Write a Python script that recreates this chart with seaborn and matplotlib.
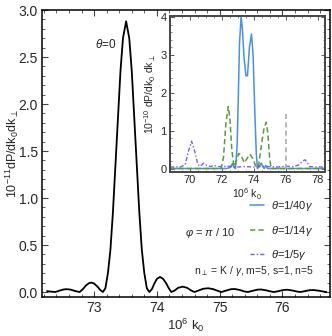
import numpy as np
import pandas as pd
import seaborn as sns
import matplotlib.pyplot as plt
from matplotlib.ticker import MultipleLocator

# main curve, theta = 0
k_main = [72.25, 72.30, 72.38, 72.45, 72.52, 72.57, 72.63, 72.70, 72.77, 72.82, 72.87,
          72.92, 72.96, 73.00, 73.05, 73.10, 73.14, 73.18, 73.22, 73.26, 73.30, 73.34,
          73.38, 73.42, 73.46, 73.51, 73.56, 73.60, 73.64, 73.68, 73.72, 73.76, 73.80,
          73.84, 73.88, 73.92, 73.96, 74.00, 74.05, 74.10, 74.15, 74.19, 74.23, 74.28,
          74.34, 74.41, 74.48, 74.55, 74.60, 74.66, 74.74, 74.82, 74.90, 74.98, 75.03,
          75.10, 75.18, 75.24, 75.32, 75.40, 75.45, 75.52, 75.60, 75.66, 75.74, 75.82,
          75.87, 75.94, 76.02, 76.08, 76.16, 76.24, 76.29, 76.36, 76.44, 76.50, 76.58,
          76.66, 76.70]
p_main = [0.01, 0.005, 0.0, 0.015, 0.028, 0.03, 0.025, 0.01, 0.0, 0.03, 0.07,
          0.095, 0.10, 0.09, 0.06, 0.02, 0.0, 0.04, 0.20, 0.45, 0.85, 1.35,
          1.85, 2.35, 2.70, 2.88, 2.70, 2.35, 1.85, 1.35, 0.85, 0.45, 0.20,
          0.04, 0.0, 0.03, 0.09, 0.14, 0.16, 0.14, 0.09, 0.04, 0.0, 0.015,
          0.045, 0.057, 0.045, 0.015, 0.0, 0.015, 0.035, 0.04, 0.03, 0.01, 0.0,
          0.015, 0.03, 0.032, 0.022, 0.005, 0.0, 0.012, 0.025, 0.027, 0.018, 0.005,
          0.0, 0.01, 0.022, 0.024, 0.016, 0.004, 0.0, 0.01, 0.02, 0.021, 0.014,
          0.004, 0.0]

# inset curves
k_40 = [68.75, 72.30, 72.55, 72.65, 72.75, 72.85, 72.95, 73.02, 73.10, 73.20, 73.28,
        73.38, 73.50, 73.60, 73.72, 73.85, 73.95, 74.05, 74.15, 74.22, 74.30, 74.42,
        74.48, 74.55, 74.65, 74.75, 74.85, 78.45]
p_40 = [0.0, 0.0, 0.03, 0.13, 0.03, 0.0, 0.6, 1.8, 3.3, 4.0, 3.7,
        2.95, 2.45, 2.45, 3.2, 3.55, 3.0, 1.6, 0.4, 0.0, 0.03, 0.12,
        0.14, 0.05, 0.0, 0.08, 0.0, 0.0]

k_14 = [68.75, 71.95, 72.10, 72.25, 72.40, 72.50, 72.62, 72.75, 72.90, 73.05, 73.20,
        73.40, 73.55, 73.75, 73.95, 74.15, 74.30, 74.50, 74.65, 74.78, 74.88, 74.98,
        75.08, 78.45]
p_14 = [0.0, 0.0, 0.3, 1.2, 1.64, 1.3, 0.5, 0.05, 0.2, 0.4, 0.35,
        0.15, 0.25, 0.38, 0.25, 0.02, 0.1, 0.7, 1.1, 1.22, 0.9, 0.3,
        0.0, 0.0]

k_5 = [68.75, 69.40, 69.70, 69.90, 70.10, 70.30, 70.50, 70.65, 70.85, 71.05, 71.30,
       71.50, 71.70, 72.00, 72.50, 73.00, 73.50, 74.00, 74.50, 75.00, 75.50, 76.00,
       76.50, 76.85, 77.05, 77.20, 77.35, 77.50, 78.00, 78.45]
p_5 = [0.04, 0.04, 0.1, 0.45, 0.72, 0.45, 0.1, 0.06, 0.14, 0.08, 0.05,
       0.09, 0.05, 0.05, 0.06, 0.04, 0.05, 0.04, 0.06, 0.05, 0.04, 0.06,
       0.05, 0.1, 0.2, 0.23, 0.15, 0.05, 0.04, 0.04]

k_mark = [76.0, 76.0]
p_mark = [0.0, 1.47]

labels = [r"$\theta$=1/40$\gamma$", r"$\theta$=1/14$\gamma$", r"$\theta$=1/5$\gamma$"]

sns.set_style("ticks")
plt.rcParams['font.family'] = ['Liberation Sans', 'DejaVu Sans']
plt.rcParams['mathtext.fontset'] = 'custom'
plt.rcParams['mathtext.rm'] = 'Liberation Sans'
plt.rcParams['mathtext.it'] = 'Liberation Sans:italic'
plt.rcParams['mathtext.fallback'] = 'stixsans'

fig = plt.figure(figsize=(3.32, 3.36), dpi=100)
ax = fig.add_axes([42/332, 1 - 297/336, 287.5/332, 287/336])

main_df = pd.DataFrame({"k": k_main, "p": p_main})
sns.lineplot(data=main_df, x="k", y="p", color="black", lw=1.3, ax=ax, estimator=None, sort=False)
ax.set_xlim(72.17, 76.75)
ax.set_ylim(-0.053, 3.0)
ax.xaxis.set_major_locator(MultipleLocator(1))
ax.xaxis.set_minor_locator(MultipleLocator(0.2))
ax.yaxis.set_major_locator(MultipleLocator(0.5))
ax.yaxis.set_minor_locator(MultipleLocator(0.1))
ax.yaxis.set_major_formatter(plt.FormatStrFormatter('%.1f'))
ax.tick_params(which='both', direction='in', top=True, right=True, labelsize=10, pad=3, color='#444444')
ax.tick_params(which='major', length=4, width=0.8)
ax.tick_params(which='minor', length=2, width=0.6)
for s in ax.spines.values():
    s.set_linewidth(1.1)
    s.set_color('black')
ax.set_xlabel(r"10$^6$ k$_0$", fontsize=9.5, labelpad=1)
ax.set_ylabel(r"10$^{-11}$dP/dk$_0$dk$_\perp$", fontsize=9, labelpad=-1.5)
ax.text(73.19, 2.63, r"$\theta$=0", fontsize=8.5, ha='center', va='center')

# inset
ax_in = fig.add_axes([169.5/332, 1 - 172/336, 155.5/332, 156/336])
cols = ["#4a90e2", "#5a9a3a", "#7a5fd6"]
sns.lineplot(x=k_40, y=p_40, color=cols[0], lw=1.1, ax=ax_in, estimator=None, sort=False)
sns.lineplot(x=k_14, y=p_14, color=cols[1], lw=1.1, ax=ax_in, estimator=None, sort=False,
             linestyle=(0, (3.5, 2)))
sns.lineplot(x=k_5, y=p_5, color=cols[2], lw=1.0, ax=ax_in, estimator=None, sort=False,
             linestyle=(0, (3, 1.5, 1, 1.5)))
sns.lineplot(x=k_mark, y=p_mark, color="#aaaaaa", lw=1.2, ax=ax_in, estimator=None, sort=False,
             linestyle=(0, (3, 2)))
ax_in.set_xlim(68.72, 78.45)
ax_in.set_ylim(-0.092, 4.026)
ax_in.xaxis.set_major_locator(MultipleLocator(2))
ax_in.xaxis.set_minor_locator(MultipleLocator(0.5))
ax_in.yaxis.set_major_locator(MultipleLocator(1))
ax_in.yaxis.set_minor_locator(MultipleLocator(0.2))
ax_in.tick_params(which='both', direction='in', top=True, right=True, labelsize=8, pad=2, color='#555555')
ax_in.tick_params(which='major', length=3, width=0.7)
ax_in.tick_params(which='minor', length=1.5, width=0.5)
for s in ax_in.spines.values():
    s.set_linewidth(1.4)
    s.set_color('#444444')
ax_in.set_xlabel(r"10$^6$ k$_0$", fontsize=7.5, labelpad=1)
ax_in.set_ylabel(r"10$^{-10}$ dP/dk$_0$ dk$_\perp$", fontsize=7.5, labelpad=2)

handles = ax_in.get_lines()[:3]
ax.legend(handles=handles, labels=labels, loc='upper left', frameon=False, fontsize=8,
          bbox_to_anchor=((250 - 42) / 287.5, 1 - (199 - 10) / 287), borderaxespad=0,
          borderpad=0, labelspacing=0.95, handlelength=1.3, handletextpad=0.6)
fig.text(210 / 332, 1 - 233 / 336, r"$\varphi$ = $\pi$ / 10", fontsize=8, ha='center', va='center')
fig.text(254 / 332, 1 - 271 / 336, r"n$_\perp$ = K / $\gamma$, m=5, s=1, n=5", fontsize=7.5,
         ha='center', va='center')

fig.savefig("out.png", dpi=100)
